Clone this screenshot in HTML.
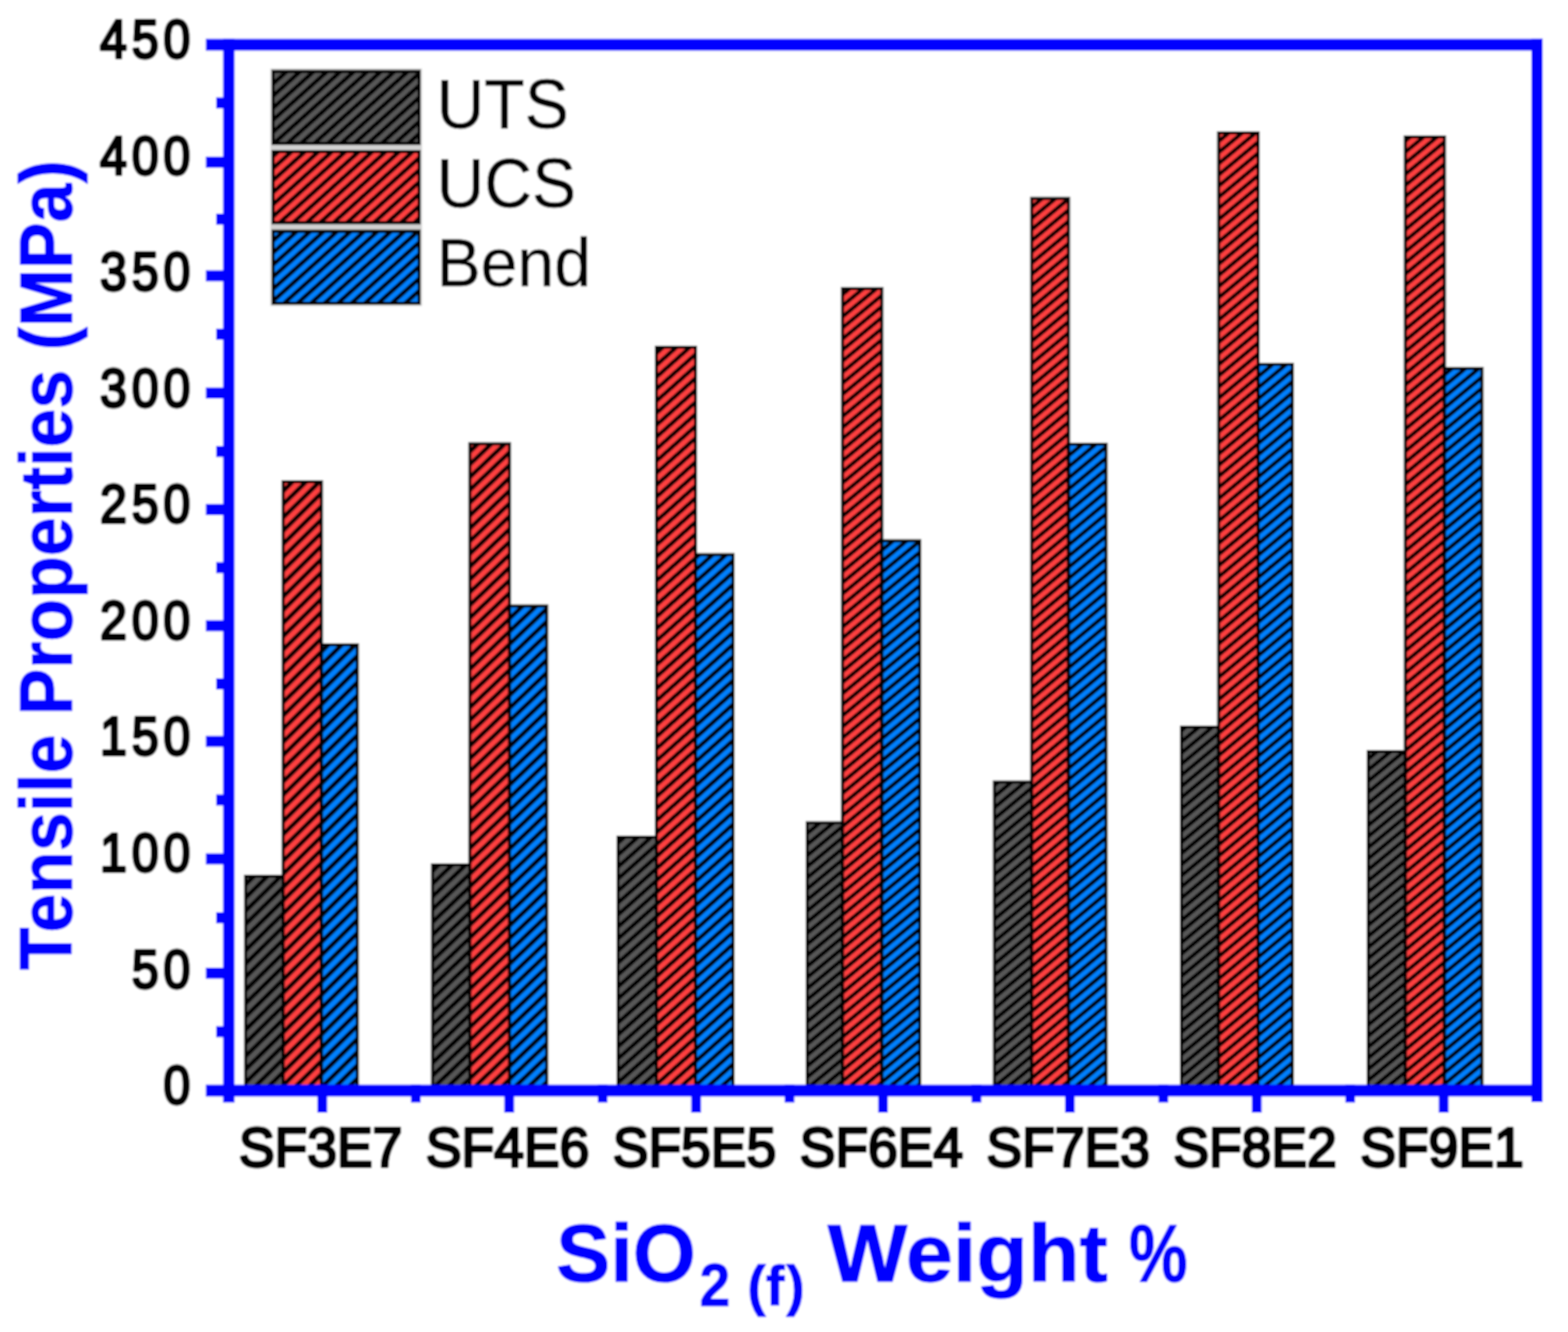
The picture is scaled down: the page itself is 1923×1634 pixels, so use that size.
<!DOCTYPE html>
<html lang="en"><head><meta charset="utf-8"><title>Tensile Properties vs SiO2 (f) Weight %</title>
<style>
html,body{margin:0;padding:0;background:#fff;}
body{width:1923px;height:1634px;overflow:hidden;}
svg{display:block;font-family:"Liberation Sans",sans-serif;}
.tick{font-size:66.2px;letter-spacing:6.8px;fill:#000;stroke:#000;stroke-width:4px;stroke-linejoin:round;}
.xt{font-size:68.4px;fill:#000;stroke:#000;stroke-width:3.8px;stroke-linejoin:round;}
.leg{fill:#000;stroke:#000;stroke-width:0.6px;}
.ttl{font-weight:bold;fill:#0000ff;stroke:#0000ff;stroke-width:1.2px;stroke-linejoin:round;}
</style></head><body>
<svg width="1923" height="1634" viewBox="0 0 1923 1634">
<defs>
<pattern id="h0_0" patternUnits="userSpaceOnUse" width="11.56" height="11.56" patternTransform="rotate(45.53)"><rect x="0" y="0" width="11.56" height="11.56" fill="#585858"/><rect x="0" y="0" width="5.32" height="11.56" fill="#000"/></pattern>
<pattern id="h0_1" patternUnits="userSpaceOnUse" width="11.56" height="11.56" patternTransform="rotate(45.53)"><rect x="0" y="0" width="11.56" height="11.56" fill="#ff4040"/><rect x="0" y="0" width="5.32" height="11.56" fill="#000"/></pattern>
<pattern id="h0_2" patternUnits="userSpaceOnUse" width="11.56" height="11.56" patternTransform="rotate(45.53)"><rect x="0" y="0" width="11.56" height="11.56" fill="#0080ff"/><rect x="0" y="0" width="5.32" height="11.56" fill="#000"/></pattern>
<pattern id="h1_0" patternUnits="userSpaceOnUse" width="11.37" height="11.37" patternTransform="rotate(46.42)"><rect x="0" y="0" width="11.37" height="11.37" fill="#585858"/><rect x="0" y="0" width="5.23" height="11.37" fill="#000"/></pattern>
<pattern id="h1_1" patternUnits="userSpaceOnUse" width="11.37" height="11.37" patternTransform="rotate(46.42)"><rect x="0" y="0" width="11.37" height="11.37" fill="#ff4040"/><rect x="0" y="0" width="5.23" height="11.37" fill="#000"/></pattern>
<pattern id="h1_2" patternUnits="userSpaceOnUse" width="11.37" height="11.37" patternTransform="rotate(46.42)"><rect x="0" y="0" width="11.37" height="11.37" fill="#0080ff"/><rect x="0" y="0" width="5.23" height="11.37" fill="#000"/></pattern>
<pattern id="h2_0" patternUnits="userSpaceOnUse" width="10.98" height="10.98" patternTransform="rotate(48.30)"><rect x="0" y="0" width="10.98" height="10.98" fill="#585858"/><rect x="0" y="0" width="5.05" height="10.98" fill="#000"/></pattern>
<pattern id="h2_1" patternUnits="userSpaceOnUse" width="10.98" height="10.98" patternTransform="rotate(48.30)"><rect x="0" y="0" width="10.98" height="10.98" fill="#ff4040"/><rect x="0" y="0" width="5.05" height="10.98" fill="#000"/></pattern>
<pattern id="h2_2" patternUnits="userSpaceOnUse" width="10.98" height="10.98" patternTransform="rotate(48.30)"><rect x="0" y="0" width="10.98" height="10.98" fill="#0080ff"/><rect x="0" y="0" width="5.05" height="10.98" fill="#000"/></pattern>
<pattern id="h3_0" patternUnits="userSpaceOnUse" width="10.49" height="10.49" patternTransform="rotate(50.50)"><rect x="0" y="0" width="10.49" height="10.49" fill="#585858"/><rect x="0" y="0" width="4.83" height="10.49" fill="#000"/></pattern>
<pattern id="h3_1" patternUnits="userSpaceOnUse" width="10.49" height="10.49" patternTransform="rotate(50.50)"><rect x="0" y="0" width="10.49" height="10.49" fill="#ff4040"/><rect x="0" y="0" width="4.83" height="10.49" fill="#000"/></pattern>
<pattern id="h3_2" patternUnits="userSpaceOnUse" width="10.49" height="10.49" patternTransform="rotate(50.50)"><rect x="0" y="0" width="10.49" height="10.49" fill="#0080ff"/><rect x="0" y="0" width="4.83" height="10.49" fill="#000"/></pattern>
<pattern id="h4_0" patternUnits="userSpaceOnUse" width="10.54" height="10.54" patternTransform="rotate(50.30)"><rect x="0" y="0" width="10.54" height="10.54" fill="#585858"/><rect x="0" y="0" width="4.85" height="10.54" fill="#000"/></pattern>
<pattern id="h4_1" patternUnits="userSpaceOnUse" width="10.54" height="10.54" patternTransform="rotate(50.30)"><rect x="0" y="0" width="10.54" height="10.54" fill="#ff4040"/><rect x="0" y="0" width="4.85" height="10.54" fill="#000"/></pattern>
<pattern id="h4_2" patternUnits="userSpaceOnUse" width="10.54" height="10.54" patternTransform="rotate(50.30)"><rect x="0" y="0" width="10.54" height="10.54" fill="#0080ff"/><rect x="0" y="0" width="4.85" height="10.54" fill="#000"/></pattern>
<pattern id="h5_0" patternUnits="userSpaceOnUse" width="10.54" height="10.54" patternTransform="rotate(50.30)"><rect x="0" y="0" width="10.54" height="10.54" fill="#585858"/><rect x="0" y="0" width="4.85" height="10.54" fill="#000"/></pattern>
<pattern id="h5_1" patternUnits="userSpaceOnUse" width="10.54" height="10.54" patternTransform="rotate(50.30)"><rect x="0" y="0" width="10.54" height="10.54" fill="#ff4040"/><rect x="0" y="0" width="4.85" height="10.54" fill="#000"/></pattern>
<pattern id="h5_2" patternUnits="userSpaceOnUse" width="10.54" height="10.54" patternTransform="rotate(50.30)"><rect x="0" y="0" width="10.54" height="10.54" fill="#0080ff"/><rect x="0" y="0" width="4.85" height="10.54" fill="#000"/></pattern>
<pattern id="h6_0" patternUnits="userSpaceOnUse" width="10.49" height="10.49" patternTransform="rotate(50.50)"><rect x="0" y="0" width="10.49" height="10.49" fill="#585858"/><rect x="0" y="0" width="4.83" height="10.49" fill="#000"/></pattern>
<pattern id="h6_1" patternUnits="userSpaceOnUse" width="10.49" height="10.49" patternTransform="rotate(50.50)"><rect x="0" y="0" width="10.49" height="10.49" fill="#ff4040"/><rect x="0" y="0" width="4.83" height="10.49" fill="#000"/></pattern>
<pattern id="h6_2" patternUnits="userSpaceOnUse" width="10.49" height="10.49" patternTransform="rotate(50.50)"><rect x="0" y="0" width="10.49" height="10.49" fill="#0080ff"/><rect x="0" y="0" width="4.83" height="10.49" fill="#000"/></pattern>
<pattern id="h7_0" patternUnits="userSpaceOnUse" width="11.02" height="11.02" patternTransform="rotate(48.11)"><rect x="0" y="0" width="11.02" height="11.02" fill="#585858"/><rect x="0" y="0" width="5.07" height="11.02" fill="#000"/></pattern>
<pattern id="h7_1" patternUnits="userSpaceOnUse" width="11.02" height="11.02" patternTransform="rotate(48.11)"><rect x="0" y="0" width="11.02" height="11.02" fill="#ff4040"/><rect x="0" y="0" width="5.07" height="11.02" fill="#000"/></pattern>
<pattern id="h7_2" patternUnits="userSpaceOnUse" width="11.02" height="11.02" patternTransform="rotate(48.11)"><rect x="0" y="0" width="11.02" height="11.02" fill="#0080ff"/><rect x="0" y="0" width="5.07" height="11.02" fill="#000"/></pattern>
<filter id="soft" x="0" y="0" width="1923" height="1634" filterUnits="userSpaceOnUse"><feGaussianBlur stdDeviation="1.1"/></filter>
</defs>
<g filter="url(#soft)">
<rect x="0" y="0" width="1923" height="1634" fill="#fff"/>
<g stroke="#000" stroke-width="3.8">
<rect x="301.3" y="1074.9" width="46.0" height="259.7" fill="url(#h0_0)"/>
<rect x="347.3" y="590.9" width="47.0" height="743.7" fill="url(#h0_1)"/>
<rect x="394.3" y="790.9" width="44.0" height="543.7" fill="url(#h0_2)"/>
<rect x="530.5" y="1060.9" width="45.8" height="273.7" fill="url(#h1_0)"/>
<rect x="576.3" y="544.4" width="48.5" height="790.2" fill="url(#h1_1)"/>
<rect x="624.8" y="743.4" width="45.7" height="591.2" fill="url(#h1_2)"/>
<rect x="758.0" y="1026.9" width="47.0" height="307.7" fill="url(#h2_0)"/>
<rect x="805.0" y="425.9" width="48.0" height="908.7" fill="url(#h2_1)"/>
<rect x="853.0" y="680.4" width="46.0" height="654.2" fill="url(#h2_2)"/>
<rect x="990.0" y="1009.4" width="43.3" height="325.2" fill="url(#h3_0)"/>
<rect x="1033.3" y="353.9" width="48.2" height="980.7" fill="url(#h3_1)"/>
<rect x="1081.5" y="663.4" width="46.5" height="671.2" fill="url(#h3_2)"/>
<rect x="1219.5" y="959.4" width="45.8" height="375.2" fill="url(#h4_0)"/>
<rect x="1265.3" y="243.4" width="45.2" height="1091.2" fill="url(#h4_1)"/>
<rect x="1310.5" y="544.9" width="46.0" height="789.7" fill="url(#h4_2)"/>
<rect x="1449.0" y="891.9" width="45.5" height="442.7" fill="url(#h5_0)"/>
<rect x="1494.5" y="162.9" width="48.5" height="1171.7" fill="url(#h5_1)"/>
<rect x="1543.0" y="446.9" width="42.0" height="887.7" fill="url(#h5_2)"/>
<rect x="1678.0" y="921.9" width="45.5" height="412.7" fill="url(#h6_0)"/>
<rect x="1723.5" y="167.9" width="48.0" height="1166.7" fill="url(#h6_1)"/>
<rect x="1771.5" y="451.9" width="46.0" height="882.7" fill="url(#h6_2)"/>
</g>
<g fill="#0000ff">
<rect x="252.5" y="47.6" width="1639.5" height="14.6"/>
<rect x="252.5" y="1330.6" width="1639.5" height="14.6"/>
<rect x="273.6" y="47.6" width="14.0" height="1304.9"/>
<rect x="1878.0" y="47.6" width="14.0" height="1304.4"/>
<rect x="252.5" y="1187.0" width="24" height="13.6"/>
<rect x="252.5" y="1046.8" width="24" height="13.6"/>
<rect x="252.5" y="902.7" width="24" height="13.6"/>
<rect x="252.5" y="760.8" width="24" height="13.6"/>
<rect x="252.5" y="618.3" width="24" height="13.6"/>
<rect x="252.5" y="475.4" width="24" height="13.6"/>
<rect x="252.5" y="331.6" width="24" height="13.6"/>
<rect x="252.5" y="192.2" width="24" height="13.6"/>
<rect x="265" y="1258.8" width="12" height="13.6"/>
<rect x="265" y="1119.0" width="12" height="13.6"/>
<rect x="265" y="974.6" width="12" height="13.6"/>
<rect x="265" y="832.1" width="12" height="13.6"/>
<rect x="265" y="689.6" width="12" height="13.6"/>
<rect x="265" y="547.0" width="12" height="13.6"/>
<rect x="265" y="403.2" width="12" height="13.6"/>
<rect x="265" y="262.0" width="12" height="13.6"/>
<rect x="265" y="119.5" width="12" height="13.6"/>
<rect x="389.3" y="1330.6" width="12.0" height="34.4"/>
<rect x="618.5" y="1330.6" width="12.0" height="34.4"/>
<rect x="847.7" y="1330.6" width="12.0" height="34.4"/>
<rect x="1076.9" y="1330.6" width="12.0" height="34.4"/>
<rect x="1306.1" y="1330.6" width="12.0" height="34.4"/>
<rect x="1535.3" y="1330.6" width="12.0" height="34.4"/>
<rect x="1764.5" y="1330.6" width="12.0" height="34.4"/>
<rect x="503.9" y="1330.6" width="12.0" height="21.9"/>
<rect x="733.1" y="1330.6" width="12.0" height="21.9"/>
<rect x="962.3" y="1330.6" width="12.0" height="21.9"/>
<rect x="1191.5" y="1330.6" width="12.0" height="21.9"/>
<rect x="1420.7" y="1330.6" width="12.0" height="21.9"/>
<rect x="1649.9" y="1330.6" width="12.0" height="21.9"/>
</g>
<g class="tick" text-anchor="end">
<text transform="translate(239.3,1354.0) scale(0.89,1)">0</text>
<text transform="translate(239.3,1211.5) scale(0.89,1)">50</text>
<text transform="translate(239.3,1069.0) scale(0.89,1)">100</text>
<text transform="translate(239.3,926.4) scale(0.89,1)">150</text>
<text transform="translate(239.3,783.9) scale(0.89,1)">200</text>
<text transform="translate(239.3,641.4) scale(0.89,1)">250</text>
<text transform="translate(239.3,498.9) scale(0.89,1)">300</text>
<text transform="translate(239.3,356.3) scale(0.89,1)">350</text>
<text transform="translate(239.3,213.8) scale(0.89,1)">400</text>
<text transform="translate(239.3,71.3) scale(0.89,1)">450</text>
</g>
<g class="xt" text-anchor="middle">
<text x="393.3" y="1430.8" textLength="200.5" lengthAdjust="spacingAndGlyphs">SF3E7</text>
<text x="622.5" y="1430.8" textLength="200.5" lengthAdjust="spacingAndGlyphs">SF4E6</text>
<text x="851.7" y="1430.8" textLength="200.5" lengthAdjust="spacingAndGlyphs">SF5E5</text>
<text x="1080.9" y="1430.8" textLength="200.5" lengthAdjust="spacingAndGlyphs">SF6E4</text>
<text x="1310.1" y="1430.8" textLength="200.5" lengthAdjust="spacingAndGlyphs">SF7E3</text>
<text x="1539.3" y="1430.8" textLength="200.5" lengthAdjust="spacingAndGlyphs">SF8E2</text>
<text x="1768.5" y="1430.8" textLength="200.5" lengthAdjust="spacingAndGlyphs">SF9E1</text>
</g>
<rect x="331.5" y="84" width="186" height="291.5" fill="#d2d2d2"/>
<rect x="335.0" y="87.7" width="179.0" height="88.1" fill="url(#h7_0)" stroke="#000" stroke-width="4.0"/>
<text class="leg" x="535.5" y="156.8" font-size="84.5" textLength="162.0" lengthAdjust="spacingAndGlyphs">UTS</text>
<rect x="335.0" y="186.0" width="179.0" height="87.2" fill="url(#h7_1)" stroke="#000" stroke-width="4.0"/>
<text class="leg" x="535.5" y="254.4" font-size="84.5" textLength="171.0" lengthAdjust="spacingAndGlyphs">UCS</text>
<rect x="335.0" y="283.7" width="179.0" height="88.3" fill="url(#h7_2)" stroke="#000" stroke-width="4.0"/>
<text class="leg" x="535.5" y="351.2" font-size="82.5" textLength="189.2" lengthAdjust="spacingAndGlyphs">Bend</text>
<text class="ttl" font-size="90.5" text-anchor="middle" transform="translate(88.3,693.3) rotate(-90)" textLength="993.5" lengthAdjust="spacingAndGlyphs">Tensile Properties (MPa)</text>
<g class="ttl" font-size="100.5">
<text x="682" y="1572" textLength="171.5" lengthAdjust="spacingAndGlyphs">SiO</text>
<text x="858" y="1601.6" font-size="74" textLength="37.5" lengthAdjust="spacingAndGlyphs">2</text>
<text x="916.5" y="1601.2" font-size="68">(<tspan dx="0">f</tspan><tspan dx="2.5">)</tspan></text>
<text x="1015" y="1572" textLength="343.5" lengthAdjust="spacingAndGlyphs">Weight</text>
<text x="1384.5" y="1572" textLength="72" lengthAdjust="spacingAndGlyphs">%</text>
</g>
</g>
</svg>
</body></html>
